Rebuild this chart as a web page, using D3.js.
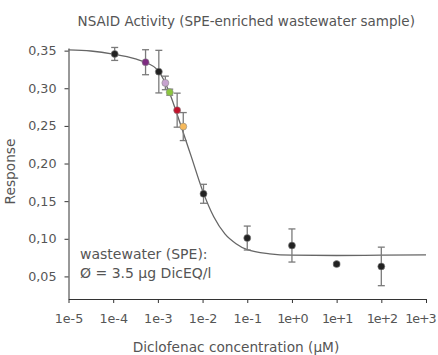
<!DOCTYPE html>
<html>
<head>
<meta charset="utf-8">
<script src="https://cdn.jsdelivr.net/npm/d3@7"></script>
<style>
    body { margin: 0; background: #fff; }
    svg text { font-family: "DejaVu Sans", sans-serif; fill: #555; }
</style>
</head>
<body>
<div id="chart"></div>
<script>
// measured points (Diclofenac conc. in µM, response, error)
const concentrations = [1.08e-4, 5.3e-4, 1.05e-3, 1.47e-3, 1.84e-3, 2.7e-3, 3.7e-3, 1.05e-2, 1e-1, 1, 10, 100];
const responses = [0.3456, 0.3346, 0.3221, 0.3071, 0.2948, 0.2709, 0.2491, 0.1598, 0.1010, 0.0911, 0.0664, 0.0633];
const errors = [0.0086, 0.0166, 0.0283, 0.009, 0.004, 0.0226, 0.0186, 0.0126, 0.0159, 0.022, 0.002, 0.0256];
const pointColors = ['#222', '#7d2b80', '#222', '#c7a3cf', '#8cc63f', '#c1122b', '#f6b95b', '#222', '#222', '#222', '#222', '#222'];

// fitted dose-response curve
const curveConc = [1e-5, 3.16e-5, 1e-4, 3.16e-4, 5.62e-4, 1e-3, 1.78e-3, 3.16e-3, 5.62e-3, 1e-2, 1.78e-2, 3.16e-2, 5.62e-2, 1e-1, 3.16e-1, 1, 10, 100, 1000];
const curveResp = [0.351, 0.3495, 0.3454, 0.339, 0.3338, 0.324, 0.2955, 0.2531, 0.2088, 0.164, 0.1292, 0.1065, 0.0935, 0.0855, 0.080, 0.0782, 0.0778, 0.0782, 0.0785];

const xTicks = [1e-5, 1e-4, 1e-3, 1e-2, 1e-1, 1, 10, 100, 1000];
const xTickLabels = ['1e-5', '1e-4', '1e-3', '1e-2', '1e-1', '1e+0', '1e+1', '1e+2', '1e+3'];
const yTicks = [0.05, 0.10, 0.15, 0.20, 0.25, 0.30, 0.35];

const width = 438, height = 355;
const plotLeft = 68.5, plotRight = 426, plotTop = 48, plotBottom = 299;

const svg = d3.select('#chart').append('svg')
    .attr('width', width)
    .attr('height', height);

const x = d3.scaleLog().domain([1e-5, 1e3]).range([plotLeft, plotRight]);
const y = d3.scaleLinear().domain([0.02, 0.3535]).range([plotBottom, plotTop]);

// axes
const yAxis = svg.append('g')
    .attr('transform', 'translate(' + plotLeft + ',0)')
    .call(d3.axisLeft(y).tickValues(yTicks).tickSize(4).tickSizeOuter(0).tickPadding(8)
        .tickFormat(function (d) { return d3.format('.2f')(d).replace('.', ','); }));

const xAxis = svg.append('g')
    .attr('transform', 'translate(0,' + plotBottom + ')')
    .call(d3.axisBottom(x).tickValues(xTicks).tickSize(4).tickSizeOuter(0).tickPadding(11)
        .tickFormat(function (d, i) { return xTickLabels[i]; }));

[xAxis, yAxis].forEach(function (a) {
    a.selectAll('path, line').attr('stroke', '#333').attr('stroke-width', 1);
    a.selectAll('text').attr('font-size', 12.7).attr('fill', '#555')
        .style('font-family', '"DejaVu Sans", sans-serif');
});
// the '+' glyph is wide in this font; tighten those labels a little
xAxis.selectAll('.tick text')
    .filter(function (d, i) { return xTickLabels[i].indexOf('+') !== -1; })
    .style('letter-spacing', '-1.1px');
// last label is pulled in from the right edge, as in the reference
xAxis.selectAll('.tick text')
    .filter(function (d, i) { return i === xTicks.length - 1; })
    .attr('text-anchor', 'end')
    .attr('dx', 9);

// fit curve
const line = d3.line()
    .x(function (d, i) { return x(curveConc[i]); })
    .y(function (d) { return y(d); })
    .curve(d3.curveMonotoneX);

svg.append('path')
    .datum(curveResp)
    .attr('d', line)
    .attr('fill', 'none')
    .attr('stroke', '#666')
    .attr('stroke-width', 1.3);

// error bars
const pts = concentrations.map(function (c, i) {
    return { c: c, r: responses[i], e: errors[i], color: pointColors[i] };
});

const eb = svg.append('g').attr('stroke', '#7a7a7a').attr('stroke-width', 1.3);
pts.forEach(function (d) {
    const cx = x(d.c);
    eb.append('line').attr('x1', cx).attr('x2', cx).attr('y1', y(d.r + d.e)).attr('y2', y(d.r - d.e));
    eb.append('line').attr('x1', cx - 3.5).attr('x2', cx + 3.5).attr('y1', y(d.r + d.e)).attr('y2', y(d.r + d.e));
    eb.append('line').attr('x1', cx - 3.5).attr('x2', cx + 3.5).attr('y1', y(d.r - d.e)).attr('y2', y(d.r - d.e));
});

svg.append('g').selectAll('circle')
    .data(pts)
    .join('circle')
    .attr('cx', function (d) { return x(d.c); })
    .attr('cy', function (d) { return y(d.r); })
    .attr('r', 3.5)
    .attr('fill', function (d) { return d.color; })
    .attr('stroke', '#888')
    .attr('stroke-width', 0.6);

// titles
svg.append('text')
    .attr('x', (plotLeft + plotRight) / 2 - 1).attr('y', 26)
    .attr('text-anchor', 'middle').attr('font-size', 13.5)
    .text('NSAID Activity (SPE-enriched wastewater sample)');

svg.append('text')
    .attr('x', 236).attr('y', 352)
    .attr('text-anchor', 'middle').attr('font-size', 13.7)
    .text('Diclofenac concentration (µM)');

svg.append('text')
    .attr('transform', 'translate(15,' + ((plotTop + plotBottom) / 2 - 2) + ') rotate(-90)')
    .attr('text-anchor', 'middle').attr('font-size', 13.7)
    .text('Response');

// annotation
const note = svg.append('text').attr('font-size', 14).attr('x', 80);
note.append('tspan').attr('x', 80).attr('y', 259).text('wastewater (SPE):');
note.append('tspan').attr('x', 80).attr('y', 278).text('Ø = 3.5 µg DicEQ/l');
</script>
</body>
</html>
